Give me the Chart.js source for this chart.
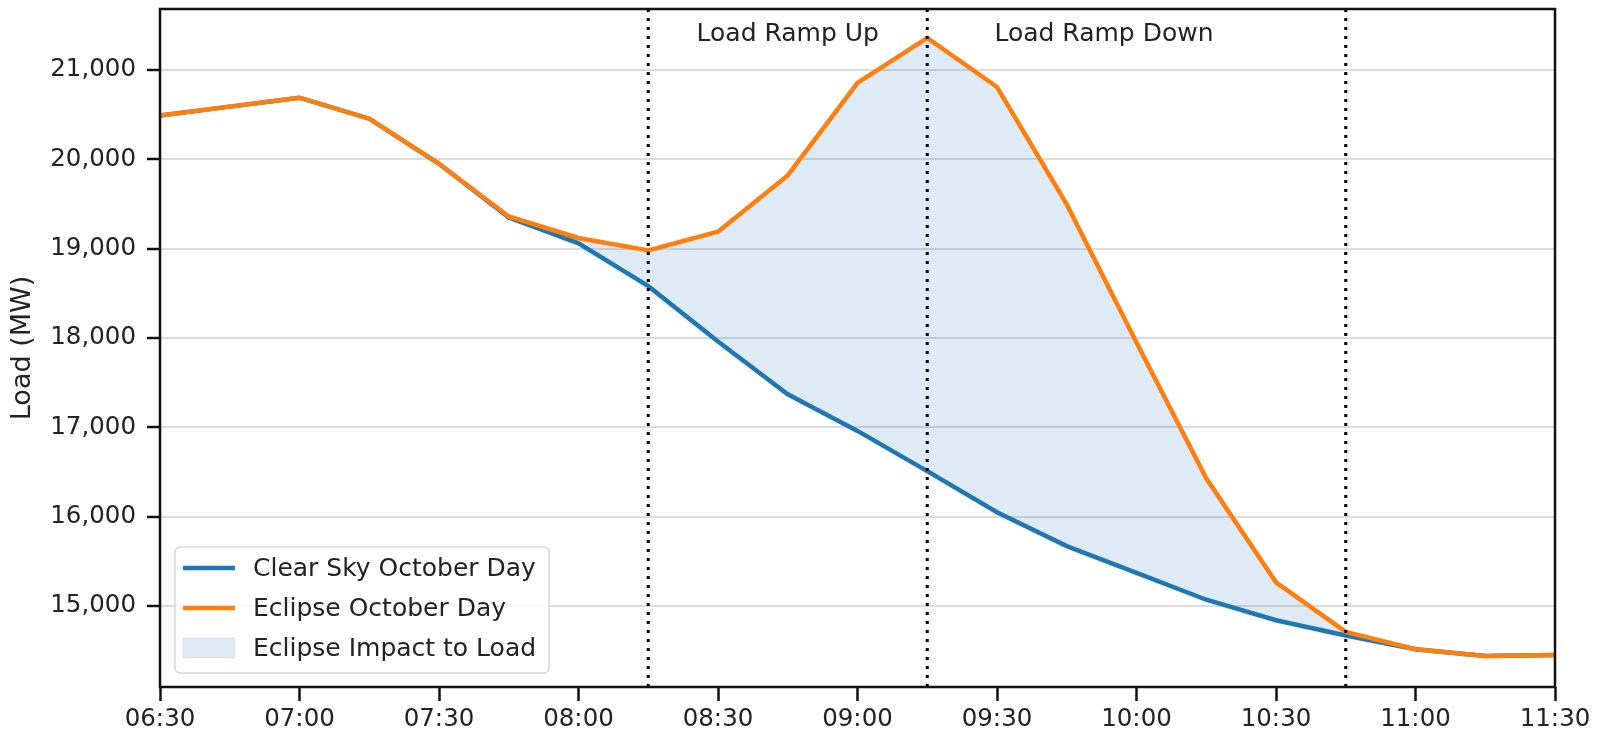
<!DOCTYPE html>
<html>
<head>
<meta charset="utf-8">
<script src="https://cdn.jsdelivr.net/npm/chart.js@4"></script>
<style>
  body { margin: 0; background: #fff; }
</style>
</head>
<body>
<canvas id="chart" width="1601" height="736"></canvas>
<script>
const times = ["06:30", "06:45", "07:00", "07:15", "07:30", "07:45", "08:00", "08:15", "08:30", "08:45", "09:00",
  "09:15", "09:30", "09:45", "10:00", "10:15", "10:30", "10:45", "11:00", "11:15", "11:30"];
const clearSky = [20490, 20590, 20690, 20455, 19950, 19350, 19060, 18580, 17960, 17370, 16960,
  16510, 16050, 15670, 15370, 15070, 14840, 14670, 14515, 14440, 14450];
const eclipse = [20490, 20590, 20690, 20455, 19950, 19360, 19120, 18980, 19190, 19820, 20855,
  21360, 20810, 19495, 17950, 16430, 15265, 14710, 14515, 14440, 14450];
const tickLabels = ["06:30", "07:00", "07:30", "08:00", "08:30", "09:00", "09:30", "10:00", "10:30", "11:00", "11:30"];
const yTicks = [15000, 16000, 17000, 18000, 19000, 20000, 21000];
const markerTimes = ["08:15", "09:15", "10:45"];
const notes = [
  { text: "Load Ramp Up", time: "08:45", y: 21400 },
  { text: "Load Ramp Down", time: "09:53", y: 21400 },
];
const seriesNames = ["Clear Sky October Day", "Eclipse October Day", "Eclipse Impact to Load"];

const BLUE = "#1f77b4";
const ORANGE = "#ff7f0e";
const FILL = "rgba(31,119,180,0.15)";
const FONT = "'DejaVu Sans', sans-serif";

// minutes since the first time stamp
function clock(t) {
  const [h, m] = t.split(":").map(Number);
  return h * 60 + m;
}
const start = clock(times[0]);
const toMin = (t) => clock(t) - start;
const xs = times.map(toMin);

const framePlugin = {
  id: "frame",
  afterDatasetsDraw(chart) {
    const { ctx, chartArea: a, scales } = chart;
    ctx.save();
    // dotted markers
    ctx.strokeStyle = "#000";
    ctx.lineWidth = 3;
    ctx.setLineDash([3, 6]);
    markerTimes.forEach((t) => {
      const x = scales.x.getPixelForValue(toMin(t));
      ctx.beginPath();
      ctx.moveTo(x, a.bottom);
      ctx.lineTo(x, a.top);
      ctx.stroke();
    });
    ctx.setLineDash([]);

    // notes
    ctx.fillStyle = "#222";
    ctx.font = "25px " + FONT;
    ctx.textAlign = "center";
    ctx.textBaseline = "middle";
    notes.forEach((n) => {
      ctx.fillText(n.text, scales.x.getPixelForValue(toMin(n.time)), scales.y.getPixelForValue(n.y));
    });

    // spines
    ctx.strokeStyle = "#111";
    ctx.lineWidth = 2.5;
    ctx.strokeRect(a.left, a.top, a.right - a.left, a.bottom - a.top);

    // legend
    const lx = a.left + 15, lw = 374, lh = 126, ly = a.bottom - 14 - lh;
    ctx.beginPath();
    ctx.roundRect(lx, ly, lw, lh, 5);
    ctx.fillStyle = "rgba(255,255,255,0.8)";
    ctx.fill();
    ctx.strokeStyle = "#d6d6d6";
    ctx.lineWidth = 1.5;
    ctx.stroke();
    ctx.font = "25px " + FONT;
    ctx.textAlign = "left";
    ctx.textBaseline = "middle";
    const rows = [ly + 21, ly + 61, ly + 101];
    [BLUE, ORANGE].forEach((c, i) => {
      ctx.strokeStyle = c;
      ctx.lineWidth = 4.5;
      ctx.beginPath();
      ctx.moveTo(lx + 8, rows[i]);
      ctx.lineTo(lx + 60, rows[i]);
      ctx.stroke();
    });
    ctx.fillStyle = FILL;
    ctx.fillRect(lx + 8, rows[2] - 10, 52, 20);
    ctx.strokeStyle = "rgba(31,119,180,0.12)";
    ctx.lineWidth = 1;
    ctx.strokeRect(lx + 8, rows[2] - 10, 52, 20);
    ctx.fillStyle = "#222";
    seriesNames.forEach((s, i) => ctx.fillText(s, lx + 78, rows[i] + 1));
    ctx.restore();
  },
};

new Chart(document.getElementById("chart"), {
  type: "line",
  data: {
    datasets: [
      {
        label: seriesNames[0],
        data: xs.map((x, i) => ({ x, y: clearSky[i] })),
        borderColor: BLUE,
        borderWidth: 4.5,
        pointRadius: 0,
        fill: false,
        order: 2,
      },
      {
        label: seriesNames[1],
        data: xs.map((x, i) => ({ x, y: eclipse[i] })),
        borderColor: ORANGE,
        borderWidth: 4.5,
        pointRadius: 0,
        fill: { target: 0, above: FILL, below: FILL },
        order: 1,
      },
    ],
  },
  options: {
    responsive: false,
    animation: false,
    layout: { padding: { top: 9, right: 46, left: 0, bottom: 0 } },
    plugins: { legend: { display: false }, tooltip: { enabled: false } },
    scales: {
      x: {
        type: "linear",
        min: 0,
        max: 300,
        afterFit: (s) => { s.height = 49; s.paddingLeft = 0; s.paddingRight = 0; },
        border: { display: false },
        grid: { drawOnChartArea: false, tickColor: "#111", tickLength: 14, tickWidth: 2.5 },
        ticks: {
          stepSize: 30,
          padding: 4,
          color: "#222",
          font: { family: FONT, size: 24.5 },
          maxRotation: 0,
          callback: (v) => tickLabels[v / 30] ?? "",
        },
      },
      y: {
        min: 14093,
        max: 21683,
        afterFit: (s) => { s.width = 160; s.paddingTop = 0; s.paddingBottom = 0; },
        afterBuildTicks: (s) => { s.ticks = yTicks.map((v) => ({ value: v })); },
        border: { display: false },
        grid: { color: "#dcdcdc", lineWidth: 2, tickColor: "#111", tickLength: 13, tickWidth: 2.5 },
        ticks: {
          padding: 11,
          color: "#222",
          font: { family: FONT, size: 24.5 },
          callback: (v) => v.toLocaleString("en-US"),
        },
        title: {
          display: true,
          text: "Load (MW)",
          color: "#222",
          font: { family: FONT, size: 27 },
          padding: { top: 7, bottom: 0 },
        },
      },
    },
  },
  plugins: [framePlugin],
});
</script>
</body>
</html>
